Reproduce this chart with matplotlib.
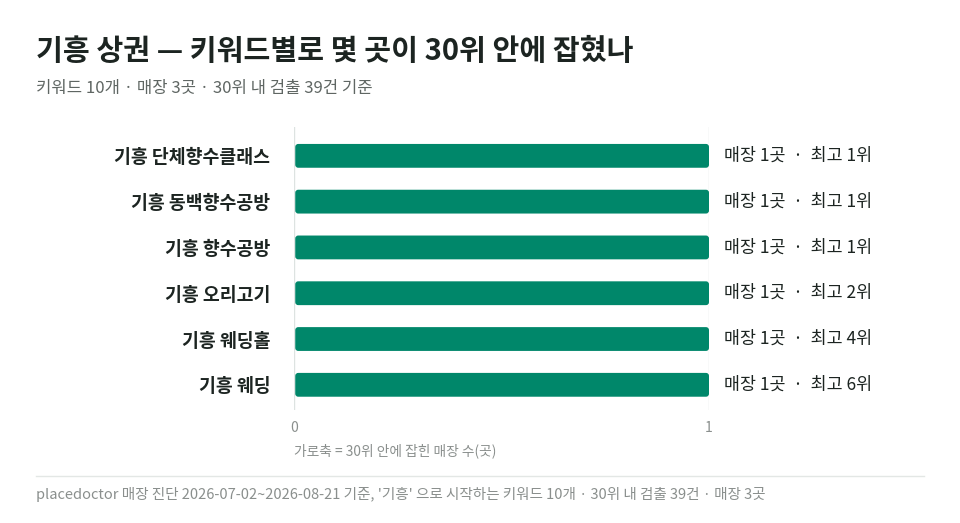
import matplotlib
matplotlib.use("Agg")
import matplotlib.pyplot as plt
from matplotlib.patches import FancyBboxPatch
from matplotlib.lines import Line2D

plt.rcParams['font.family'] = ['Noto Sans CJK KR', 'DejaVu Sans']

# 데이터
keywords = ["기흥 단체향수클래스", "기흥 동백향수공방", "기흥 향수공방",
            "기흥 오리고기", "기흥 웨딩홀", "기흥 웨딩"]
store_counts = [1, 1, 1, 1, 1, 1]
best_ranks = [1, 1, 1, 2, 4, 6]

title = "기흥 상권 — 키워드별로 몇 곳이 30위 안에 잡혔나"
subtitle = "키워드 10개 · 매장 3곳 · 30위 내 검출 39건 기준"
axis_note = "가로축 = 30위 안에 잡힌 매장 수(곳)"
footer = ("placedoctor 매장 진단 2026-07-02~2026-08-21 기준, '기흥' 으로 시작하는 "
          "키워드 10개 · 30위 내 검출 39건 · 매장 3곳")

W, H = 960, 523
fig = plt.figure(figsize=(W / 100, H / 100), dpi=100)
fig.patch.set_facecolor("white")

# 축 위치 (픽셀 기준)
x0, x1 = 294, 709
y_top, y_bot = 127, 410
ax = fig.add_axes([x0 / W, 1 - y_bot / H, (x1 - x0) / W, (y_bot - y_top) / H])

green = "#00876a"
pos = list(range(len(keywords)))
bars = ax.barh(pos, store_counts, height=0.52, color=green)

ax.set_xlim(0, 1)
ax.set_ylim(5.55, -0.63)

# 둥근 모서리
px_x = 1 / (x1 - x0)
px_y = 6.18 / (y_bot - y_top)
for b in bars:
    x, y = b.get_x(), b.get_y()
    w, h = b.get_width(), b.get_height()
    b.set_visible(False)
    p = FancyBboxPatch((x + 0.003, y), w - 0.003, h,
                       boxstyle="round,pad=0,rounding_size=%f" % (3 * px_x),
                       mutation_aspect=px_y / px_x,
                       facecolor=green, edgecolor="none")
    ax.add_patch(p)

for i, (n, r) in enumerate(zip(store_counts, best_ranks)):
    ax.text(n + 0.035, i, f"매장 {n}곳  ·  최고 {r}위", va="center", ha="left",
            fontsize=12.5, color="#1c2421", fontweight="medium")

ax.set_yticks(pos)
ax.set_yticklabels(keywords, fontsize=13.2, fontweight="bold", color="#1c2421")
ax.tick_params(axis="y", length=0, pad=17)
ax.set_xticks([0, 1])
ax.set_xticklabels(["0", "1"], fontsize=10, color="#8a8f8d")
ax.tick_params(axis="x", length=0, pad=8)
for s in ax.spines.values():
    s.set_visible(False)
for xv in [0, 1]:
    ax.axvline(xv, color="#dde3e1", linewidth=1, zorder=0)

fig.text(36 / W, 1 - 51 / H, title, fontsize=21, fontweight="bold",
         color="#1c2421", va="center", ha="left")
fig.text(36 / W, 1 - 89 / H, subtitle, fontsize=12, color="#5f6663",
         va="center", ha="left")
fig.text(294 / W, 1 - 451 / H, axis_note, fontsize=9.9, color="#8a8f8d",
         va="center", ha="left")
fig.add_artist(Line2D([36 / W, 924 / W], [1 - 476 / H, 1 - 476 / H],
                      color="#e3e7e5", linewidth=1))
fig.text(36 / W, 1 - 494 / H, footer, fontsize=10.5, color="#8a8f8d",
         va="center", ha="left")

fig.savefig("out.png", dpi=100, facecolor="white")
